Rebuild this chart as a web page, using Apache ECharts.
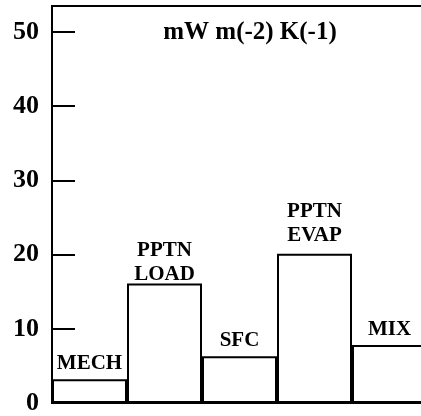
<!DOCTYPE html>
<html>
<head>
<meta charset="utf-8">
<script src="https://cdn.jsdelivr.net/npm/echarts@6/dist/echarts.min.js"></script>
<style>
  html, body { margin: 0; padding: 0; background: #fff; overflow: hidden; }
  /* 图表比窗口略宽，右边框落在画面外 */
  #chart { width: 427px; height: 416px; }
</style>
</head>
<body>
<div id="chart"></div>
<script>
// 各项数值 (mW m-2 K-1)
const categories = ['MECH', 'PPTN\nLOAD', 'SFC', 'PPTN\nEVAP', 'MIX']
const values = [3.2, 16.1, 6.3, 20.1, 7.8]
const yTicks = [0, 10, 20, 30, 40, 50]
const unitText = 'mW m(-2) K(-1)'

const serif = '"Liberation Serif", "DejaVu Serif", serif'
// 标签离柱顶的距离 (原图里 LOAD 贴得更近)
const labelDistance = [4, -3, 4, 6, 4]

let myChart = echarts.init(document.getElementById('chart'))
myChart.setOption({
  animation: false,
  grid: {
    left: 52,
    right: 0,
    top: 6,
    bottom: 12,
    show: true,
    borderColor: '#000',
    borderWidth: 2,
    backgroundColor: 'transparent',
  },
  graphic: [
    {
      type: 'text',
      x: 250,
      y: 33,
      style: {
        text: unitText,
        fill: '#000',
        font: 'bold 25px ' + serif,
        textAlign: 'center',
        textVerticalAlign: 'middle',
      },
    },
  ],
  xAxis: {
    type: 'category',
    data: categories,
    axisLine: { lineStyle: { color: '#000', width: 2 } },
    axisTick: { show: false },
    axisLabel: { show: false },
  },
  yAxis: {
    type: 'value',
    min: 0,
    max: 53.5,
    interval: 10,
    splitLine: { show: false },
    axisLine: { show: true, lineStyle: { color: '#000', width: 2 } },
    axisTick: { show: true, inside: true, length: 23, lineStyle: { color: '#000', width: 2 } },
    axisLabel: {
      margin: 13,
      color: '#000',
      fontSize: 26,
      fontWeight: 'bold',
      fontFamily: serif,
      formatter: (v) => (yTicks.indexOf(v) >= 0 ? String(v) : ''),
    },
  },
  series: [
    {
      type: 'bar',
      data: values.map((v, i) => ({ value: v, label: { distance: labelDistance[i] } })),
      barCategoryGap: 0,
      itemStyle: {
        color: '#fff',
        borderColor: '#000',
        borderWidth: 2,
      },
      label: {
        show: true,
        position: 'top',
        color: '#000',
        fontSize: 21,
        fontWeight: 'bold',
        fontFamily: serif,
        lineHeight: 24,
        formatter: (p) => p.name,
      },
    },
  ],
})
</script>
</body>
</html>
